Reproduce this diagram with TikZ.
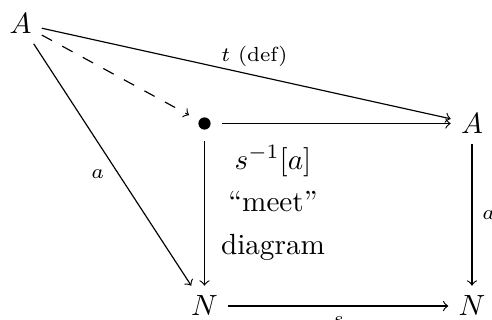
\documentclass[tikz,border=0pt]{standalone}
\begin{document}
\begin{tikzpicture}[x=0.3425pt,y=-0.3425pt,>=to,
  lbl/.style={font=\scriptsize},
  ar/.style={->,line width=0.4pt},
  dash arrow/.style={->,line width=0.4pt,dash pattern=on 4pt off 4pt}]
\useasboundingbox (0,0) rectangle (492,320);
\node (A1) at (20.5,23.5) {$A$};
\node (A2) at (472,123.5) {$A$};
\node (N1) at (204.5,306) {$N$};
\node (N2) at (472,306) {$N$};
\node[circle,minimum size=11.6pt,inner sep=0pt] (P) at (204.5,123.5) {};
\fill (P.center) circle (2.1pt);
\node[align=center] (T) at (273,203) {$s^{-1}[a]$\\[2.5pt]``meet''\\[2.5pt]diagram};
\draw[ar] (A1) -- node[lbl,pos=0.52,above=-0.5pt]{$t$ (def)} (A2);
\draw[dash arrow] (A1) -- (P);
\draw[ar] (A1) -- node[lbl,pos=0.54,left=1.5pt]{$a$} (N1);
\draw[ar] (P) -- (A2);
\draw[ar] (P) -- (N1);
\draw[ar] (A2) -- node[lbl,midway,right=0pt]{$a$} (N2);
\draw[ar] (N1) -- node[lbl,midway,below]{$s$} (N2);
\end{tikzpicture}
\end{document}
